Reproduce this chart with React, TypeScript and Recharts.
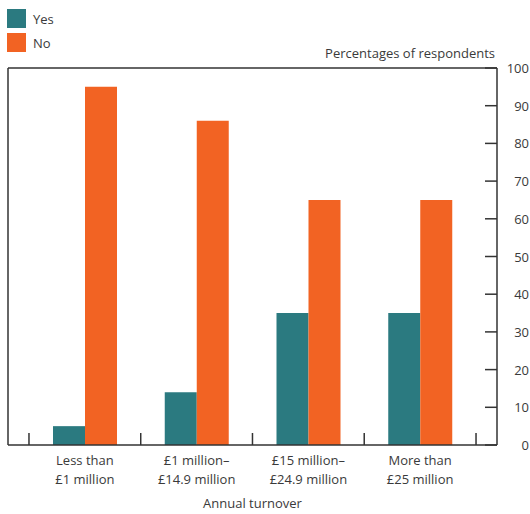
import React from 'react';
import { BarChart, Bar, XAxis, YAxis } from 'recharts';

const categories = ['Less than\n£1 million', '£1 million–\n£14.9 million', '£15 million–\n£24.9 million', 'More than\n£25 million'];
const yesValues = [5, 14, 35, 35];
const noValues = [95, 86, 65, 65];
const yTicks = [0, 10, 20, 30, 40, 50, 60, 70, 80, 90, 100];
const seriesNames = ['Yes', 'No'];

const data = categories.map((c, i) => ({ name: c, Yes: yesValues[i], No: noValues[i] }));

const TEAL = '#2b7a80';
const ORANGE = '#f26323';
const AXIS = '#333333';
const TEXT = '#3a3a3a';
const FONT = "'Open Sans', 'Noto Sans', sans-serif";
const FS = 13;
const HALF_BAND = 55.9;
const INNER_TICK = 12;

const XTick = (props: any) => {
  const { x, y, payload, index } = props;
  const lines = String(payload.value).split('\n');
  return (
    <g>
      <line x1={x - HALF_BAND} x2={x - HALF_BAND} y1={y} y2={y - INNER_TICK} stroke={AXIS} strokeWidth={1.5} />
      {index === categories.length - 1 && (
        <line x1={x + HALF_BAND} x2={x + HALF_BAND} y1={y} y2={y - INNER_TICK} stroke={AXIS} strokeWidth={1.5} />
      )}
      {lines.map((l, i) => (
        <text key={i} x={x} y={y + 15 + i * 19} textAnchor="middle" dominantBaseline="central" fill={TEXT} fontSize={FS} fontFamily={FONT}>
          {l}
        </text>
      ))}
    </g>
  );
};

const YTick = (props: any) => {
  const { x, y, payload } = props;
  return (
    <g>
      <line x1={x - INNER_TICK} x2={x} y1={y} y2={y} stroke={AXIS} strokeWidth={1.5} />
      <text x={x + 32} y={y} textAnchor="end" dominantBaseline="central" fill={TEXT} fontSize={FS} fontFamily={FONT}>
        {payload.value}
      </text>
    </g>
  );
};

const LegendBox = () => (
  <div style={{ position: 'absolute', left: 7, top: 9, fontFamily: FONT, fontSize: FS, color: TEXT }}>
    {seriesNames.map((label, i) => (
      <div key={label} style={{ display: 'flex', alignItems: 'center', height: 19, marginBottom: 5 }}>
        <div style={{ width: 19, height: 19, background: i === 0 ? TEAL : ORANGE, marginRight: 7 }} />
        <span>{label}</span>
      </div>
    ))}
  </div>
);

export default function App() {
  return (
    <div style={{ position: 'absolute', left: 0, top: 0, width: 530, height: 514, background: '#fff' }}>
      <BarChart
        width={530}
        height={514}
        data={data}
        margin={{ top: 67, right: 0, bottom: 0, left: 7 }}
        barCategoryGap={24}
        barGap={0}
      >
        <XAxis
          dataKey="name"
          xAxisId="bottom"
          height={69}
          padding={{ left: 21, right: 21 }}
          tickSize={0}
          tickMargin={0}
          tickLine={false}
          axisLine={{ stroke: AXIS, strokeWidth: 1.5 }}
          tick={<XTick />}
          interval={0}
          label={(p: any) => {
            const vb = p.viewBox;
            return (
              <text x={vb.x + vb.width / 2} y={vb.y + 58} textAnchor="middle" dominantBaseline="central" fill={TEXT} fontSize={FS} fontFamily={FONT}>
                Annual turnover
              </text>
            );
          }}
        />
        <XAxis xAxisId="top" orientation="top" dataKey="name" height={1} tick={false} tickLine={false} axisLine={{ stroke: AXIS, strokeWidth: 1.5 }} />
        <YAxis yAxisId="left" orientation="left" width={1} domain={[0, 100]} tick={false} tickLine={false} axisLine={{ stroke: AXIS, strokeWidth: 1.5 }} />
        <YAxis
          yAxisId="right"
          orientation="right"
          width={33}
          domain={[0, 100]}
          ticks={yTicks}
          interval={0}
          tickSize={0}
          tickMargin={0}
          tickLine={false}
          tick={<YTick />}
          axisLine={{ stroke: AXIS, strokeWidth: 1.5 }}
          label={(p: any) => {
            const vb = p.viewBox;
            return (
              <text x={vb.x - 2} y={vb.y - 15} textAnchor="end" dominantBaseline="central" fill={TEXT} fontSize={FS} fontFamily={FONT}>
                Percentages of respondents
              </text>
            );
          }}
        />
        <Bar dataKey="Yes" xAxisId="bottom" yAxisId="right" fill={TEAL} isAnimationActive={false} />
        <Bar dataKey="No" xAxisId="bottom" yAxisId="right" fill={ORANGE} isAnimationActive={false} />
      </BarChart>
      <LegendBox />
    </div>
  );
}
